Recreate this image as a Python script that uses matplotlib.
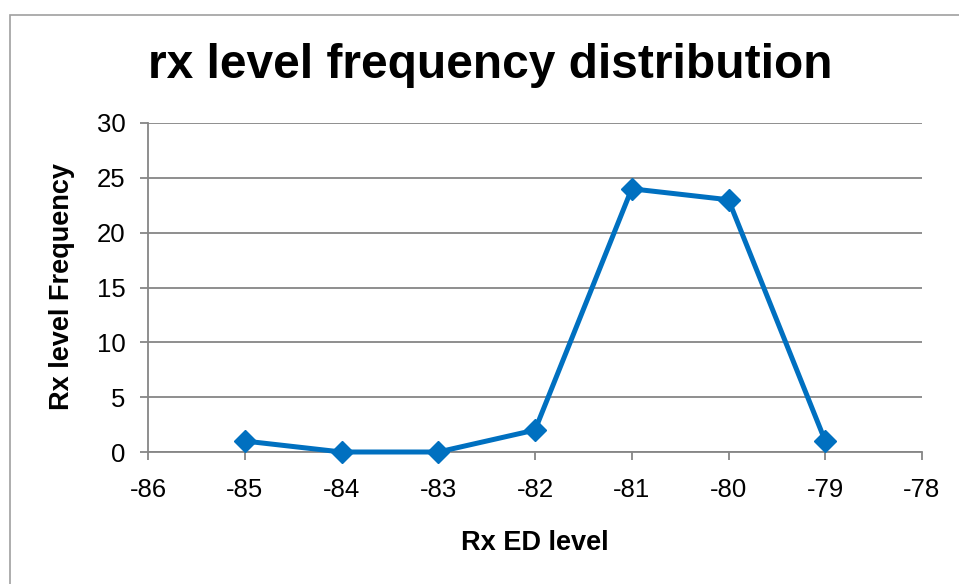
import matplotlib
matplotlib.use("Agg")
from matplotlib import pyplot as plt
from matplotlib.patches import Rectangle

# values
rx_levels = [-85, -84, -83, -82, -81, -80, -79]
frequency = [1, 0, 0, 2, 24, 23, 1]
x_ticks = [-86, -85, -84, -83, -82, -81, -80, -79, -78]
y_ticks = [0, 5, 10, 15, 20, 25, 30]

plt.rcParams['font.family'] = ['Liberation Sans', 'DejaVu Sans']
plt.rcParams['axes.unicode_minus'] = False

fig = plt.figure(figsize=(9.59, 5.84), dpi=100)
# outer chart border (excel style)
fig.patches.append(Rectangle((10 / 959, -0.01), 1.0, 1 - 15 / 584 + 0.01,
                             transform=fig.transFigure, fill=False,
                             edgecolor='#a0a0a0', linewidth=1.2))

ax = fig.add_axes([148 / 959, 1 - 452 / 584, (922 - 148) / 959, (452 - 123) / 584])

grey = '#868686'
ax.plot(rx_levels, frequency, color='#0070C0', linewidth=3.6,
        marker='D', markersize=11.5, zorder=3, clip_on=False)

ax.set_xlim(-86, -78)
ax.set_ylim(0, 30)
ax.set_xticks(x_ticks)
ax.set_yticks(y_ticks)
ax.grid(axis='y', color=grey, linewidth=1.3)
ax.set_axisbelow(True)

for side in ['top', 'right']:
    ax.spines[side].set_visible(False)
for side in ['left', 'bottom']:
    ax.spines[side].set_color(grey)
    ax.spines[side].set_linewidth(1.3)

ax.tick_params(axis='x', direction='out', length=6, width=1.3, color=grey,
               labelsize=18.5, pad=13)
ax.tick_params(axis='y', direction='out', length=6, width=1.3, color=grey,
               labelsize=18.5, pad=10)

fig.text(490 / 959, 1 - 65 / 584, 'rx level frequency distribution',
         ha='center', va='center', fontsize=34.5, fontweight='bold')
fig.text(535 / 959, 1 - 543 / 584, 'Rx ED level',
         ha='center', va='center', fontsize=19.5, fontweight='bold')
fig.text(62 / 959, 1 - 287 / 584, 'Rx level Frequency', rotation=90,
         ha='center', va='center', fontsize=19.5, fontweight='bold')

fig.savefig('out.png', dpi=100)
